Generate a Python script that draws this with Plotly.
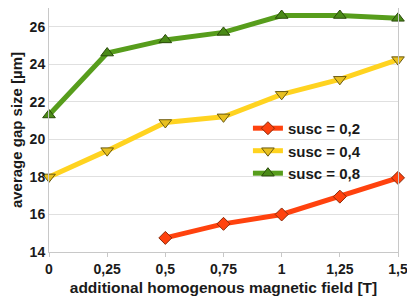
import plotly.graph_objects as go

x_vals = [0, 0.25, 0.5, 0.75, 1, 1.25, 1.5]
x_labels = ["0", "0,25", "0,5", "0,75", "1", "1,25", "1,5"]

susc02_x = [0.5, 0.75, 1, 1.25, 1.5]
susc02 = [14.75, 15.5, 16.0, 16.95, 17.95]
susc04 = [18.0, 19.4, 20.9, 21.2, 22.4, 23.2, 24.25]
susc08 = [21.3, 24.6, 25.3, 25.7, 26.6, 26.6, 26.45]
y_ticks = [14, 16, 18, 20, 22, 24, 26]

font = "Liberation Sans, Arial, sans-serif"

fig = go.Figure()
fig.add_trace(go.Scatter(x=susc02_x, y=susc02, name="<b>susc = 0,2</b>", mode="lines+markers",
                         line=dict(color="#ff420e", width=5),
                         marker=dict(symbol="diamond", size=10, color="#ff420e",
                                     line=dict(color="#8a2a0a", width=1)),
                         cliponaxis=False))
fig.add_trace(go.Scatter(x=x_vals, y=susc04, name="<b>susc = 0,4</b>", mode="lines+markers",
                         line=dict(color="#ffd320", width=5),
                         marker=dict(symbol="triangle-down", size=11, color="#e8c020",
                                     line=dict(color="#6a5a10", width=1)),
                         cliponaxis=False))
fig.add_trace(go.Scatter(x=x_vals, y=susc08, name="<b>susc = 0,8</b>", mode="lines+markers",
                         line=dict(color="#579d1c", width=5),
                         marker=dict(symbol="triangle-up", size=11, color="#4a8a17",
                                     line=dict(color="#2a4a0a", width=1)),
                         cliponaxis=False))

# the page body has an 8px margin, so the figure is sized/offset to compensate
fig.update_layout(
    width=407, height=292,
    margin=dict(l=41, r=17, t=0, b=48),
    paper_bgcolor="white", plot_bgcolor="white",
    font=dict(family=font, size=14, color="#1a1a1a"),
    showlegend=True,
    legend=dict(x=0.57, y=0.574, xanchor="left", yanchor="top",
                bgcolor="rgba(0,0,0,0)", font=dict(size=15, family=font, color="#1a1a1a"),
                itemwidth=30, tracegroupgap=0),
    xaxis=dict(range=[0, 1.5], tickvals=x_vals, ticktext=x_labels,
               showgrid=False, showline=True, linecolor="#c8c8c8", mirror=True,
               ticks="outside", ticklen=4, tickcolor="#c8c8c8",
               tickfont=dict(size=14, family=font, weight="bold"),
               title=dict(text="<b>additional homogenous magnetic field [T]</b>",
                          font=dict(size=15.5, family=font), standoff=6),
               zeroline=False, automargin=False),
    yaxis=dict(range=[14, 27], tickvals=y_ticks,
               showgrid=True, gridcolor="#e0e0e0",
               showline=True, linecolor="#c8c8c8", mirror=True,
               ticks="",
               tickfont=dict(size=14, family=font, weight="bold"),
               title=dict(text="<b>average gap size [µm]</b>",
                          font=dict(size=15, family=font), standoff=4),
               zeroline=False, automargin=False),
)

fig.write_html("out.html")
